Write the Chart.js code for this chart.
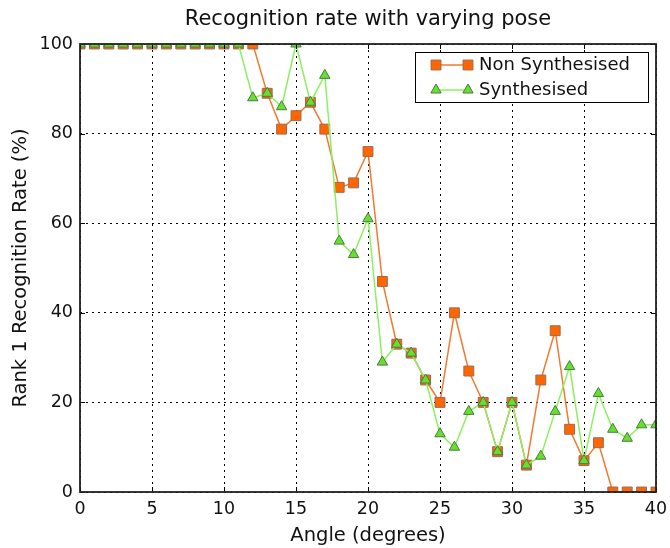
<!DOCTYPE html>
<html>
<head>
<meta charset="utf-8">
<script src="https://cdn.jsdelivr.net/npm/chart.js@4.4.0/dist/chart.umd.min.js"></script>
<style>
  html, body { margin: 0; padding: 0; background: #fff; }
  #wrap { width: 670px; height: 548px; }
</style>
</head>
<body>
<div id="wrap"><canvas id="myChart" width="670" height="548"></canvas></div>
<script>
// data
const angles = [0, 1, 2, 3, 4, 5, 6, 7, 8, 9, 10, 11, 12, 13, 14, 15, 16, 17, 18, 19, 20,
  21, 22, 23, 24, 25, 26, 27, 28, 29, 30, 31, 32, 33, 34, 35, 36, 37, 38, 39, 40];
const nonSynthesised = [100, 100, 100, 100, 100, 100, 100, 100, 100, 100, 100, 100, 100, 89, 81, 84, 87, 81, 68, 69, 76,
  47, 33, 31, 25, 20, 40, 27, 20, 9, 20, 6, 25, 36, 14, 7, 11, 0, 0, 0, 0];
const synthesised = [100, 100, 100, 100, 100, 100, 100, 100, 100, 100, 100, 100, 88, 89, 86, 100, 87, 93, 56, 53, 61,
  29, 33, 31, 25, 13, 10, 18, 20, 9, 20, 6, 8, 18, 28, 7, 22, 14, 12, 15, 15];
const xTicks = [0, 5, 10, 15, 20, 25, 30, 35, 40];
const yTicks = [0, 20, 40, 60, 80, 100];

const FONT = "'DejaVu Sans', sans-serif";

const toPoints = (ys) => angles.map((a, i) => ({ x: a, y: ys[i] }));

// frame, inward tick marks, title and legend box (matplotlib look)
const decorPlugin = {
  id: "decor",
  afterDatasetsDraw(chart) {
    const { ctx, chartArea: a, scales } = chart;
    ctx.save();
    ctx.strokeStyle = "#000";
    ctx.lineWidth = 1;
    xTicks.forEach((t) => {
      const px = Math.round(scales.x.getPixelForValue(t)) + 0.5;
      ctx.beginPath();
      ctx.moveTo(px, a.bottom); ctx.lineTo(px, a.bottom - 5);
      ctx.moveTo(px, a.top); ctx.lineTo(px, a.top + 5);
      ctx.stroke();
    });
    yTicks.forEach((t) => {
      const py = Math.round(scales.y.getPixelForValue(t)) + 0.5;
      ctx.beginPath();
      ctx.moveTo(a.left, py); ctx.lineTo(a.left + 5, py);
      ctx.moveTo(a.right, py); ctx.lineTo(a.right - 5, py);
      ctx.stroke();
    });
    ctx.strokeStyle = "#222";
    ctx.lineWidth = 1.8;
    ctx.strokeRect(a.left, a.top, a.right - a.left, a.bottom - a.top);
    ctx.restore();
  },
  afterDraw(chart) {
    const { ctx } = chart;
    ctx.save();
    // title
    ctx.fillStyle = "#111";
    ctx.font = "21px " + FONT;
    ctx.textAlign = "center";
    ctx.textBaseline = "middle";
    ctx.fillText("Recognition rate with varying pose", 368, 20);

    // legend
    const bx = 415.5, by = 52.5, bw = 233, bh = 50;
    ctx.fillStyle = "#fff";
    ctx.fillRect(bx, by, bw, bh);
    ctx.strokeStyle = "#000";
    ctx.lineWidth = 1;
    ctx.strokeRect(bx, by, bw, bh);
    const rows = [65, 90];
    chart.data.datasets.forEach((ds, i) => {
      const y = rows[i];
      ctx.strokeStyle = ds.borderColor;
      ctx.lineWidth = ds.borderWidth;
      ctx.beginPath();
      ctx.moveTo(436, y); ctx.lineTo(468, y);
      ctx.stroke();
      ctx.fillStyle = ds.pointBackgroundColor;
      ctx.strokeStyle = ds.pointBorderColor;
      ctx.lineWidth = ds.pointBorderWidth;
      [436, 468].forEach((x) => {
        Chart.helpers.drawPoint(ctx, { pointStyle: ds.pointStyle, radius: ds.pointRadius, borderWidth: ds.pointBorderWidth, rotation: 0 }, x, y);
      });
      ctx.fillStyle = "#111";
      ctx.textAlign = "left";
      ctx.font = "18px " + FONT;
      ctx.fillText(ds.label, 479, y);
    });
    ctx.restore();
  },
};

const ctx = document.getElementById("myChart").getContext("2d");
new Chart(ctx, {
  type: "line",
  data: {
    datasets: [
      {
        label: "Non Synthesised",
        data: toPoints(nonSynthesised),
        borderColor: "#f07a30",
        borderWidth: 1.5,
        pointStyle: "rect",
        pointRadius: 7,
        pointBackgroundColor: "#ff6600",
        pointBorderColor: "#9a6a55",
        pointBorderWidth: 1,
        order: 1,
        clip: 0,
      },
      {
        label: "Synthesised",
        data: toPoints(synthesised),
        borderColor: "#8cf060",
        borderWidth: 1.5,
        pointStyle: "triangle",
        pointRadius: 6,
        pointBackgroundColor: "#66e030",
        pointBorderColor: "#4c7a40",
        pointBorderWidth: 1,
        order: 0,
        clip: 0,
      },
    ],
  },
  options: {
    responsive: false,
    animation: false,
    layout: { padding: { top: 44, right: 14, left: 0, bottom: 0 } },
    plugins: {
      legend: { display: false },
      title: { display: false },
      tooltip: { enabled: false },
    },
    elements: { line: { tension: 0 } },
    scales: {
      x: {
        type: "linear",
        min: 0,
        max: 40,
        afterBuildTicks: (scale) => { scale.ticks = xTicks.map((v) => ({ value: v })); },
        afterFit: (scale) => {
          scale.height = 56;
          // keep the "40" label overhang from shrinking the plot
          scale.paddingLeft = 0;
          scale.paddingRight = 0;
        },
        ticks: { color: "#111", font: { family: FONT, size: 17.5 }, padding: 7, maxRotation: 0 },
        grid: { color: "#000", lineWidth: 1, drawTicks: false, tickLength: 0 },
        border: { display: false, dash: [2, 4] },
        title: { display: true, text: "Angle (degrees)", color: "#111", font: { family: FONT, size: 19.5 }, padding: { top: 0, bottom: 0 } },
      },
      y: {
        type: "linear",
        min: 0,
        max: 100,
        afterBuildTicks: (scale) => { scale.ticks = yTicks.map((v) => ({ value: v })); },
        afterFit: (scale) => {
          scale.width = 80;
          scale.paddingTop = 0;
          scale.paddingBottom = 0;
        },
        ticks: { color: "#111", font: { family: FONT, size: 17.5 }, padding: 7 },
        grid: { color: "#000", lineWidth: 1, drawTicks: false, tickLength: 0 },
        border: { display: false, dash: [2, 4] },
        title: { display: true, text: "Rank 1 Recognition Rate (%)", color: "#111", font: { family: FONT, size: 19.5 }, padding: { top: 9, bottom: 0 } },
      },
    },
  },
  plugins: [decorPlugin],
});
</script>
</body>
</html>
